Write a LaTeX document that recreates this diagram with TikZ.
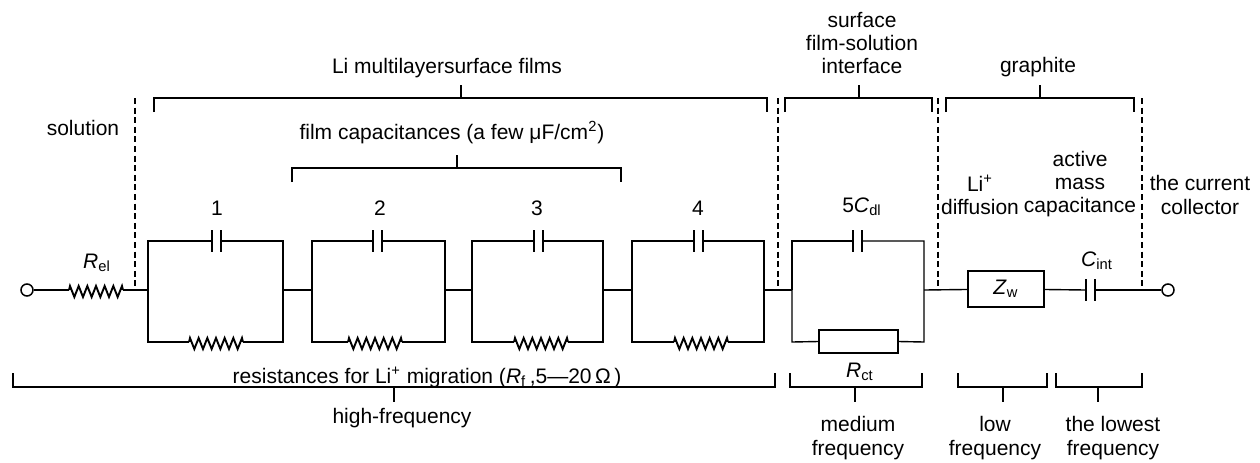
\documentclass[tikz,border=0pt]{standalone}
\usepackage{fontspec}
\setmainfont{Liberation Sans}
\newcommand{\tbrk}[4]{% left, right, tick, line y  (opens downward)
  \draw[brk] (#1,#4+14) -- (#1,#4) -- (#2,#4) -- (#2,#4+14);
  \draw[brk] (#3,#4) -- (#3,#4-13);}
\newcommand{\bbrk}[4]{% left, right, tick, line y  (opens upward)
  \draw[brk] (#1,#4-14) -- (#1,#4) -- (#2,#4) -- (#2,#4-14);
  \draw[brk] (#3,#4) -- (#3,#4+15);}
\begin{document}
\begin{tikzpicture}[x=0.5pt,y=-0.5pt,
  wire/.style={line width=0.7pt},
  brk/.style={line width=0.8pt},
  dsh/.style={line width=0.7pt, dash pattern=on 3pt off 1.8pt},
  lbl/.style={font=\fontsize{10.5}{11.6}\selectfont, inner sep=0pt, align=center},
  term/.style={circle, draw, line width=0.75pt, minimum size=6pt, inner sep=0pt},
  elem/.style={draw, rectangle, line width=0.8pt, inner sep=0pt},
  zz/.pic={
    \draw[line width=0.95pt, line join=miter] (-27,0) -- (-26,-4)
      \foreach \k in {1,...,12}{ -- ({-26+\k*52/12},{ifthenelse(isodd(\k),7,-4)}) } -- (27,0);
    \coordinate (-w) at (-27,0); \coordinate (-e) at (27,0);},
  cap/.pic={
    \draw[line width=1pt] (-4.5,-11) -- (-4.5,11) (4.5,-11) -- (4.5,11);
    \coordinate (-w) at (-4.5,0); \coordinate (-e) at (4.5,0);}
]
\useasboundingbox (0,0) rectangle (1260,462);

% terminals and series elements
\node[term] (tL) at (27,290) {};
\node[term] (tR) at (1168,290) {};
\pic (rel) at (96,290) {zz};
\node[elem, minimum width=38pt, minimum height=18pt] (zw) at (1006,289) {\fontsize{10.5}{12}\selectfont\textit{Z}\textsubscript{w}};
\pic (cint) at (1090,290) {cap};

% RC boxes: left x, right x, cap x, res x
\foreach \i/\xl/\xr/\xc/\xres in {1/148/283/216/216, 2/312/445/377/375, 3/472/603/538/541, 4/632/764/698/701}{
  \coordinate (b\i l) at (\xl,290);
  \coordinate (b\i r) at (\xr,290);
  \pic (c\i) at (\xc,241) {cap};
  \pic (r\i) at (\xres,342) {zz};
  \draw[wire] (b\i l) -- (\xl,241) -- (c\i-w);
  \draw[wire] (c\i-e) -- (\xr,241) -- (b\i r) -- (\xr,342) -- (r\i-e);
  \draw[wire] (r\i-w) -- (\xl,342) -- (b\i l);
}
% box 5 with Rct
\coordinate (b5l) at (792,290);
\coordinate (b5r) at (924,290);
\pic (c5) at (857,241) {cap};
\node[elem, minimum width=39.5pt, minimum height=11.5pt] (rct) at (858.5,341.5) {};
\draw[wire] (b5l) -- (792,241) -- (c5-w);
\draw[wire] (c5-e) -- (924,241) -- (b5r) -- (924,342) -- (rct.east);
\draw[wire] (rct.west) -- (792,342) -- (b5l);

% series wiring
\draw[wire] (tL) -- (rel-w);
\draw[wire] (rel-e) -- (b1l);
\draw[wire] (b1r) -- (b2l);
\draw[wire] (b2r) -- (b3l);
\draw[wire] (b3r) -- (b4l);
\draw[wire] (b4r) -- (b5l);
\draw[wire] (b5r) -- (zw);
\draw[wire] (zw) -- (cint-w);
\draw[wire] (cint-e) -- (tR);

% dashed separators
\foreach \x in {135,778,938,1142}{ \draw[dsh] (\x,98) -- (\x,290); }

% brackets
\tbrk{154}{767}{461}{98}
\tbrk{292}{621}{457}{168}
\tbrk{785}{932}{859}{98}
\tbrk{946}{1134}{1040}{98}
\bbrk{13}{775}{394}{387}
\bbrk{790}{922}{855}{387}
\bbrk{958}{1047}{1003}{387}
\bbrk{1056}{1142}{1098}{387}

% labels
\node[lbl] (lrel) at (97,263) {\textit{R}\textsubscript{el}};
\node[lbl] (l1) at (217,208) {1};
\node[lbl] (l2) at (380,208) {2};
\node[lbl] (l3) at (537,208) {3};
\node[lbl] (l4) at (698,208) {4};
\node[lbl] (l5) at (862,207) {5\textit{C}\textsubscript{dl}};
\node[lbl] (lcint) at (1097,261) {\textit{C}\textsubscript{int}};
\node[lbl] (lrct) at (860,372) {\textit{R}\textsubscript{ct}};
\node[lbl] (lres) at (427,377) {resistances for Li\textsuperscript{+} migration (\textit{R}\textsubscript{f}\,,5—20\,Ω\,)};
\node[lbl] (lhigh) at (402,418) {high-frequency};
\node[lbl] (lmed) at (858,438) {medium\\frequency};
\node[lbl] (llow) at (995,438) {low\\frequency};
\node[lbl] (llowest) at (1113,438) {the lowest\\frequency};
\node[lbl] (lsol) at (83,128) {solution};
\node[lbl] (lli) at (447,68) {Li multilayersurface films};
\node[lbl] (lfilm) at (452,133) {film capacitances (a few μF/cm\textsuperscript{2})};
\node[lbl] (lsurf) at (862,43) {surface\\film-solution\\interface};
\node[lbl] (lgra) at (1038,67) {graphite};
\node[lbl] (ldiff) at (980,195) {Li\textsuperscript{+}\\diffusion};
\node[lbl] (lact) at (1080,184) {active\\mass\\capacitance};
\node[lbl] (lcc) at (1200,195) {the current\\collector};
\end{tikzpicture}
\end{document}
